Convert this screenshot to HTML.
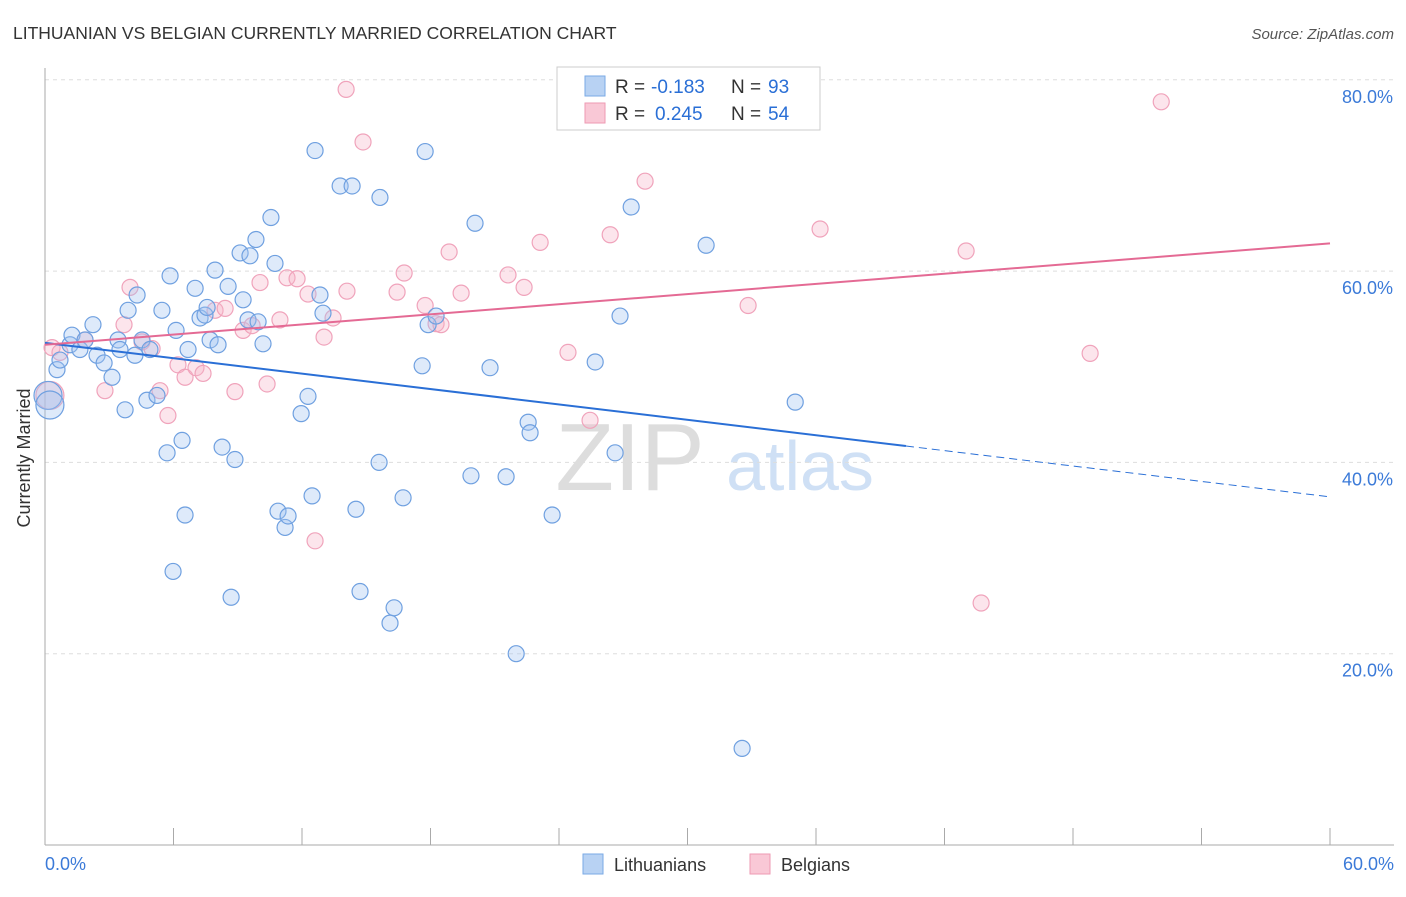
<!DOCTYPE html>
<html><head><meta charset="utf-8"><style>
body{margin:0;background:#fff;font-family:"Liberation Sans",sans-serif;}
svg text{font-family:"Liberation Sans",sans-serif;}
</style></head><body>
<svg id="c" width="1406" height="892">
<text x="13" y="39" font-size="17.5" fill="#333">LITHUANIAN VS BELGIAN CURRENTLY MARRIED CORRELATION CHART</text>
<text x="1394" y="39" font-size="15" fill="#555" font-style="italic" text-anchor="end">Source: ZipAtlas.com</text>
<text x="30" y="458" font-size="18" fill="#333" text-anchor="middle" transform="rotate(-90 30 458)">Currently Married</text>
<text x="630" y="490" font-size="96" fill="#ddd" text-anchor="middle" font-family="Liberation Serif">ZIP</text>
<text x="800" y="490" font-size="70" fill="#cfe0f5" text-anchor="middle">atlas</text>
<g id="grid"></g><g id="axes"></g><g id="pink"></g><g id="blue"></g><g id="lines"></g>
<g>
<rect x="557" y="67" width="263" height="63" fill="#fff" stroke="#ccc"/>
<rect x="585" y="76" width="20" height="20" fill="#b8d2f3" stroke="#7aaae6"/>
<rect x="585" y="103" width="20" height="20" fill="#f9c8d6" stroke="#ee9ab3"/>
<text x="615" y="93" font-size="19" fill="#333">R =</text>
<text x="651" y="93" font-size="19" fill="#2a6fd6">-0.183</text>
<text x="731" y="93" font-size="19" fill="#333">N =</text>
<text x="768" y="93" font-size="19" fill="#2a6fd6">93</text>
<text x="615" y="120" font-size="19" fill="#333">R =</text>
<text x="655" y="120" font-size="19" fill="#2a6fd6">0.245</text>
<text x="731" y="120" font-size="19" fill="#333">N =</text>
<text x="768" y="120" font-size="19" fill="#2a6fd6">54</text>
</g>
<g>
<rect x="583" y="854" width="20" height="20" fill="#b8d2f3" stroke="#7aaae6"/>
<text x="614" y="871" font-size="18" fill="#333">Lithuanians</text>
<rect x="750" y="854" width="20" height="20" fill="#f9c8d6" stroke="#ee9ab3"/>
<text x="781" y="871" font-size="18" fill="#333">Belgians</text>
</g>
</svg>
<script>
const yTicks=[20,40,60,80];
const xTickLabels=["0.0%","60.0%"];
const blueX=[0.56,0.70,1.17,1.26,1.63,1.87,2.24,2.43,2.76,3.13,3.41,3.50,3.74,3.88,4.20,4.30,4.53,4.76,4.90,5.23,5.46,5.70,5.84,5.98,6.12,6.40,6.54,6.68,7.01,7.24,7.47,7.57,7.71,7.94,8.08,8.27,8.55,8.69,8.87,9.11,9.25,9.48,9.57,9.85,9.95,10.18,10.55,10.74,10.88,11.21,11.35,11.96,12.28,12.47,12.61,12.84,12.98,13.78,14.34,14.52,14.71,15.60,15.64,16.11,16.30,16.72,17.61,17.75,17.89,18.26,19.89,20.08,20.78,21.53,22.00,22.56,22.65,23.68,25.69,26.62,26.85,27.37,30.87,32.55,35.03,0.14,0.23];
const blueY=[49.7,50.7,52.3,53.3,51.8,52.8,54.4,51.2,50.4,48.9,52.8,51.8,45.5,55.9,51.2,57.5,52.8,46.5,51.8,47.0,55.9,41.0,59.5,28.6,53.8,42.3,34.5,51.8,58.2,55.1,55.4,56.2,52.8,60.1,52.3,41.6,58.4,25.9,40.3,61.9,57.0,54.9,61.6,63.3,54.7,52.4,65.6,60.8,34.9,33.2,34.4,45.1,46.9,36.5,72.6,57.5,55.6,68.9,68.9,35.1,26.5,40.0,67.7,23.2,24.8,36.3,50.1,72.5,54.4,55.3,38.6,65.0,49.9,38.5,20.0,44.2,43.1,34.5,50.5,41.0,55.3,66.7,62.7,10.1,46.3,47.0,46.0];
const pinkX=[0.33,0.70,1.87,2.80,3.69,3.97,4.53,5.00,5.37,5.74,6.21,6.54,7.05,7.38,7.94,8.41,8.87,9.25,9.67,10.04,10.37,10.97,11.30,11.77,12.28,12.61,13.03,13.45,14.10,14.06,14.85,16.44,16.77,17.75,18.26,18.49,18.87,19.43,21.62,22.37,23.12,24.42,25.45,26.39,28.02,32.83,36.19,43.01,43.71,48.80,52.12,0.23];
const pinkY=[52.0,51.5,52.8,47.5,54.4,58.3,52.6,51.9,47.5,44.9,50.2,48.9,49.9,49.3,55.9,56.1,47.4,53.8,54.3,58.8,48.2,54.9,59.3,59.2,57.6,31.8,53.1,55.1,57.9,79.0,73.5,57.8,59.8,56.4,54.5,54.4,62.0,57.7,59.6,58.3,63.0,51.5,44.4,63.8,69.4,56.4,64.4,62.1,25.3,51.4,77.7,47.0];
const blueTrend=[52.5,36.4];
const pinkTrend=[52.3,62.9];
const NS="http://www.w3.org/2000/svg";
const X=v=>45+v/60*1285, Y=v=>845-v/20*191.3;
function mk(tag,attrs,parent){const e=document.createElementNS(NS,tag);for(const k in attrs)e.setAttribute(k,attrs[k]);document.getElementById(parent).appendChild(e);return e;}
yTicks.forEach(t=>{
 const g=mk('line',{x1:45,x2:1394,y1:Y(t),y2:Y(t),stroke:'#ddd','stroke-dasharray':'4,4'},'grid');
 
 
 const l=mk('text',{x:1393,y:Y(t)+23,'font-size':18,fill:'#3b7ad8','text-anchor':'end'},'grid');
 l.textContent=t.toFixed(1)+'%';
 
 
});
mk('line',{x1:45,x2:45,y1:68,y2:845,stroke:'#aaa'},'axes');
mk('line',{x1:45,x2:1394,y1:845,y2:845,stroke:'#aaa'},'axes');
for(let i=0;i<=10;i++){const x=45+i*128.5;const tk=mk('line',{x1:x,x2:x,y1:828,y2:845,stroke:'#aaa'},'axes');
 
 }
[[0,'start',45],[1,'end',1394]].forEach(([i,a,x])=>{const t=mk('text',{x:x,y:870,'font-size':18,fill:'#3b7ad8','text-anchor':a},'axes');t.textContent=xTickLabels[i];
 
 });
pinkX.forEach((v,i)=>{const big=i==pinkX.length-1;const c=mk('circle',{cx:X(v),cy:Y(pinkY[i]),r:big?14:8,fill:'rgba(246,180,200,0.35)',stroke:'#f0a3bb','stroke-width':1.2},'pink');
 
 });
blueX.forEach((v,i)=>{const big=i>=blueX.length-2;const c=mk('circle',{cx:X(v),cy:Y(blueY[i]),r:big?14:8,fill:'rgba(160,195,240,0.35)',stroke:'#6fa0e0','stroke-width':1.2},'blue');
 
 });
const sx=40.2;
const b1=mk('line',{x1:X(0),y1:Y(blueTrend[0]),x2:X(sx),y2:Y(blueTrend[0]+(blueTrend[1]-blueTrend[0])*sx/60),stroke:'#2a6fd6','stroke-width':2},'lines');


const b2=mk('line',{x1:X(sx),y1:Y(blueTrend[0]+(blueTrend[1]-blueTrend[0])*sx/60),x2:X(60),y2:Y(blueTrend[1]),stroke:'#2a6fd6','stroke-width':1,'stroke-dasharray':'8,5'},'lines');


const p1=mk('line',{x1:X(0),y1:Y(pinkTrend[0]),x2:X(60),y2:Y(pinkTrend[1]),stroke:'#e46a94','stroke-width':2},'lines');


</script>
</body></html>
